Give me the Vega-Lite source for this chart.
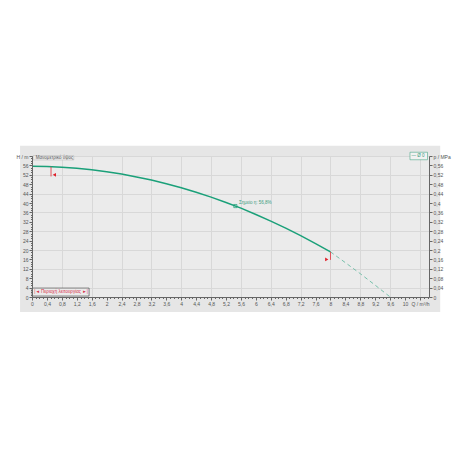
{
  "$schema": "https://vega.github.io/schema/vega-lite/v6.json",
  "autosize": {"type": "none"},
  "width": 397,
  "height": 141,
  "padding": {"left": 32, "top": 156, "right": 31, "bottom": 163},
  "background": "white",
  "config": {
    "view": {"fill": "#ebebeb", "stroke": null},
    "font": "Liberation Sans",
    "axis": {"labelFontSize": 5, "labelColor": "#555", "tickColor": "#666", "domainColor": "#666", "title": null, "labelFont": "Liberation Sans"}
  },
  "datasets": {
    "curve": [
      {"Q": 0, "H": 55.6}, {"Q": 0.4, "H": 55.5}, {"Q": 0.8, "H": 55.2}, {"Q": 1.2, "H": 54.8},
      {"Q": 1.6, "H": 54.1}, {"Q": 2.0, "H": 53.3}, {"Q": 2.4, "H": 52.3}, {"Q": 2.8, "H": 51.1},
      {"Q": 3.2, "H": 49.8}, {"Q": 3.6, "H": 48.2}, {"Q": 4.0, "H": 46.5}, {"Q": 4.4, "H": 44.6},
      {"Q": 4.8, "H": 42.5}, {"Q": 5.2, "H": 40.2}, {"Q": 5.6, "H": 37.8}, {"Q": 6.0, "H": 35.1},
      {"Q": 6.4, "H": 32.3}, {"Q": 6.8, "H": 29.3}, {"Q": 7.2, "H": 26.1}, {"Q": 7.6, "H": 22.7},
      {"Q": 8.0, "H": 19.2}
    ],
    "dashed": [
      {"Q": 8.0, "H": 19.2}, {"Q": 8.4, "H": 14.6}, {"Q": 8.8, "H": 9.9}, {"Q": 9.2, "H": 5.0}, {"Q": 9.6, "H": 0}
    ],
    "frame": [
      {"x": -0.32, "x2": 0, "y": -6.4, "y2": 64.4},
      {"x": 10.64, "x2": 10.94, "y": -6.4, "y2": 64.4},
      {"x": 0, "x2": 10.64, "y": 60, "y2": 64.4},
      {"x": 0, "x2": 10.64, "y": -6.4, "y2": 0}
    ],
    "limits": [
      {"Q": 0.51, "H1": 55.4, "H2": 51.3},
      {"Q": 8.0, "H1": 19.2, "H2": 15.8}
    ],
    "flags": [
      {"Q": 0.6, "H": 52.0, "shape": "triangle-left"},
      {"Q": 7.9, "H": 16.0, "shape": "triangle-right"}
    ],
    "boxes": [
      {"x": 0.03, "x2": 1.12, "y": 58.3, "y2": 60.2, "kind": "head"},
      {"x": 10.13, "x2": 10.6, "y": 58.4, "y2": 61.6, "kind": "legend"},
      {"x": 0.0, "x2": 1.53, "y": 0.4, "y2": 3.8, "kind": "range"}
    ],
    "labels": [
      {"Q": 0.1, "H": 59.25, "text": "Μανομετρικό ύψος", "kind": "head"},
      {"Q": 10.17, "H": 60.0, "text": "— Ø 0", "kind": "legend"},
      {"Q": 0.06, "H": 2.1, "text": "|◄ Περιοχή λειτουργίας ►|", "kind": "range"},
      {"Q": 5.55, "H": 40.0, "text": "Σημείο η: 56,8%", "kind": "duty"}
    ]
  },
  "layer": [
    {
      "layer": [
        {
          "data": {"values": [{"Q": 0, "H": 0}]},
          "mark": {"type": "point", "opacity": 0},
          "encoding": {
            "x": {"field": "Q", "type": "quantitative", "scale": {"domain": [0, 10.64], "nice": false, "zero": false},
              "axis": {"orient": "bottom", "values": [0.8, 1.6, 2.4, 3.2, 4.0, 4.8, 5.6, 6.4, 7.2, 8.0, 8.8, 9.6, 10.4], "grid": true, "gridColor": "#d8d8d8", "gridWidth": 1, "labels": false, "ticks": false, "domain": false, "zindex": 0}},
            "y": {"field": "H", "type": "quantitative", "scale": {"domain": [0, 60], "nice": false, "zero": false},
              "axis": {"orient": "left", "values": [4, 12, 20, 28, 36, 44, 52, 60], "grid": true, "gridColor": "#d8d8d8", "gridWidth": 1, "labels": false, "ticks": false, "domain": false, "zindex": 0}}
          }
        },
        {
          "data": {"name": "frame"},
          "mark": {"type": "rect", "color": "#e6e6e6", "clip": false},
          "encoding": {
            "x": {"field": "x", "type": "quantitative", "axis": null},
            "x2": {"field": "x2"},
            "y": {"field": "y", "type": "quantitative", "axis": null},
            "y2": {"field": "y2"}
          }
        },
        {
          "data": {"values": [{"Q": 0, "H": 0}]},
          "mark": {"type": "point", "opacity": 0},
          "encoding": {
            "x": {"field": "Q", "type": "quantitative",
              "axis": {"orient": "bottom", "values": [0, 0.1, 0.2, 0.3, 0.4, 0.5, 0.6, 0.7, 0.8, 0.9, 1, 1.1, 1.2, 1.3, 1.4, 1.5, 1.6, 1.7, 1.8, 1.9, 2, 2.1, 2.2, 2.3, 2.4, 2.5, 2.6, 2.7, 2.8, 2.9, 3, 3.1, 3.2, 3.3, 3.4, 3.5, 3.6, 3.7, 3.8, 3.9, 4, 4.1, 4.2, 4.3, 4.4, 4.5, 4.6, 4.7, 4.8, 4.9, 5, 5.1, 5.2, 5.3, 5.4, 5.5, 5.6, 5.7, 5.8, 5.9, 6, 6.1, 6.2, 6.3, 6.4, 6.5, 6.6, 6.7, 6.8, 6.9, 7, 7.1, 7.2, 7.3, 7.4, 7.5, 7.6, 7.7, 7.8, 7.9, 8, 8.1, 8.2, 8.3, 8.4, 8.5, 8.6, 8.7, 8.8, 8.9, 9, 9.1, 9.2, 9.3, 9.4, 9.5, 9.6, 9.7, 9.8, 9.9, 10, 10.1, 10.2, 10.3, 10.4, 10.5, 10.6], "grid": false, "labels": false, "tickSize": 1.5, "domain": false, "zindex": 1}},
            "y": {"field": "H", "type": "quantitative",
              "axis": {"orient": "left", "values": [0, 1, 2, 3, 4, 5, 6, 7, 8, 9, 10, 11, 12, 13, 14, 15, 16, 17, 18, 19, 20, 21, 22, 23, 24, 25, 26, 27, 28, 29, 30, 31, 32, 33, 34, 35, 36, 37, 38, 39, 40, 41, 42, 43, 44, 45, 46, 47, 48, 49, 50, 51, 52, 53, 54, 55, 56, 57, 58, 59, 60], "grid": false, "labels": false, "tickSize": 1.5, "domain": false, "zindex": 1}}
          }
        },
        {
          "data": {"values": [{"Q": 0, "H": 0}]},
          "mark": {"type": "point", "opacity": 0},
          "encoding": {
            "x": {"field": "Q", "type": "quantitative",
              "axis": {"orient": "bottom", "values": [0, 0.4, 0.8, 1.2, 1.6, 2, 2.4, 2.8, 3.2, 3.6, 4, 4.4, 4.8, 5.2, 5.6, 6, 6.4, 6.8, 7.2, 7.6, 8, 8.4, 8.8, 9.2, 9.6, 10, 10.4], "grid": false, "tickSize": 3, "labelPadding": 1, "labelFlush": false, "labelOverlap": false,
                "labelExpr": "datum.value > 10.3 ? 'Q / m³/h' : replace(format(datum.value, '.1~f'), '.', ',')", "zindex": 1}},
            "y": {"field": "H", "type": "quantitative",
              "axis": {"orient": "left", "values": [0, 4, 8, 12, 16, 20, 24, 28, 32, 36, 40, 44, 48, 52, 56, 60], "grid": false, "tickSize": 3, "labelPadding": 1, "labelFlush": false, "labelOverlap": false,
                "labelExpr": "datum.value == 60 ? 'H / m' : datum.label", "zindex": 1}}
          }
        },
        {
          "data": {"name": "curve"},
          "mark": {"type": "line", "color": "#1aa079", "strokeWidth": 1.5},
          "encoding": {
            "x": {"field": "Q", "type": "quantitative", "axis": null},
            "y": {"field": "H", "type": "quantitative", "axis": null}
          }
        },
        {
          "data": {"name": "dashed"},
          "mark": {"type": "line", "color": "#5ab59a", "strokeWidth": 0.8, "strokeDash": [4, 3]},
          "encoding": {
            "x": {"field": "Q", "type": "quantitative", "axis": null},
            "y": {"field": "H", "type": "quantitative", "axis": null}
          }
        },
        {
          "data": {"name": "limits"},
          "mark": {"type": "rule", "color": "#e0303a", "strokeWidth": 0.8},
          "encoding": {
            "x": {"field": "Q", "type": "quantitative", "axis": null},
            "y": {"field": "H1", "type": "quantitative", "axis": null},
            "y2": {"field": "H2"}
          }
        },
        {
          "data": {"name": "flags"},
          "mark": {"type": "point", "filled": true, "color": "#e0202a", "size": 14, "opacity": 1},
          "encoding": {
            "x": {"field": "Q", "type": "quantitative", "axis": null},
            "y": {"field": "H", "type": "quantitative", "axis": null},
            "shape": {"field": "shape", "type": "nominal", "scale": null, "legend": null}
          }
        },
        {
          "data": {"values": [{"Q": 5.45, "H": 38.7}]},
          "mark": {"type": "point", "shape": "square", "filled": false, "color": "#1a9c74", "size": 10, "strokeWidth": 0.7, "opacity": 1},
          "encoding": {
            "x": {"field": "Q", "type": "quantitative", "axis": null},
            "y": {"field": "H", "type": "quantitative", "axis": null}
          }
        },
        {
          "data": {"name": "boxes"},
          "mark": {"type": "rect", "clip": false, "strokeWidth": 0.6},
          "encoding": {
            "x": {"field": "x", "type": "quantitative", "axis": null},
            "x2": {"field": "x2"},
            "y": {"field": "y", "type": "quantitative", "axis": null},
            "y2": {"field": "y2"},
            "fill": {"field": "kind", "type": "nominal", "scale": {"domain": ["head", "legend", "range"], "range": ["#ebebeb", "#f2f2f2", "#ebebeb"]}, "legend": null},
            "stroke": {"field": "kind", "type": "nominal", "scale": {"domain": ["head", "legend", "range"], "range": ["#bdbdbd", "#4aa88a", "#333333"]}, "legend": null}
          }
        },
        {
          "data": {"name": "labels"},
          "mark": {"type": "text", "align": "left", "baseline": "middle", "fontSize": 4.5, "clip": false},
          "encoding": {
            "x": {"field": "Q", "type": "quantitative", "axis": null},
            "y": {"field": "H", "type": "quantitative", "axis": null},
            "text": {"field": "text"},
            "color": {"field": "kind", "type": "nominal", "scale": {"domain": ["head", "legend", "range", "duty"], "range": ["#555555", "#3a9c80", "#d8304a", "#3a9c80"]}, "legend": null}
          }
        }
      ],
      "resolve": {"axis": {"x": "independent", "y": "independent"}}
    },
    {
      "data": {"values": [{"Q": 0, "p": 0}]},
      "mark": {"type": "point", "opacity": 0},
      "encoding": {
        "x": {"field": "Q", "type": "quantitative", "axis": null},
        "y": {"field": "p", "type": "quantitative", "scale": {"domain": [0, 0.6], "nice": false, "zero": false},
          "axis": {"orient": "right", "values": [0, 0.04, 0.08, 0.12, 0.16, 0.2, 0.24, 0.28, 0.32, 0.36, 0.4, 0.44, 0.48, 0.52, 0.56, 0.6], "grid": false, "tickSize": 3, "labelPadding": 1, "labelFlush": false, "labelOverlap": false,
            "labelExpr": "datum.value > 0.59 ? 'p / MPa' : replace(format(datum.value, '.2~f'), '.', ',')", "zindex": 1}}
      }
    }
  ],
  "resolve": {"scale": {"y": "independent"}, "axis": {"x": "independent", "y": "independent"}}
}
